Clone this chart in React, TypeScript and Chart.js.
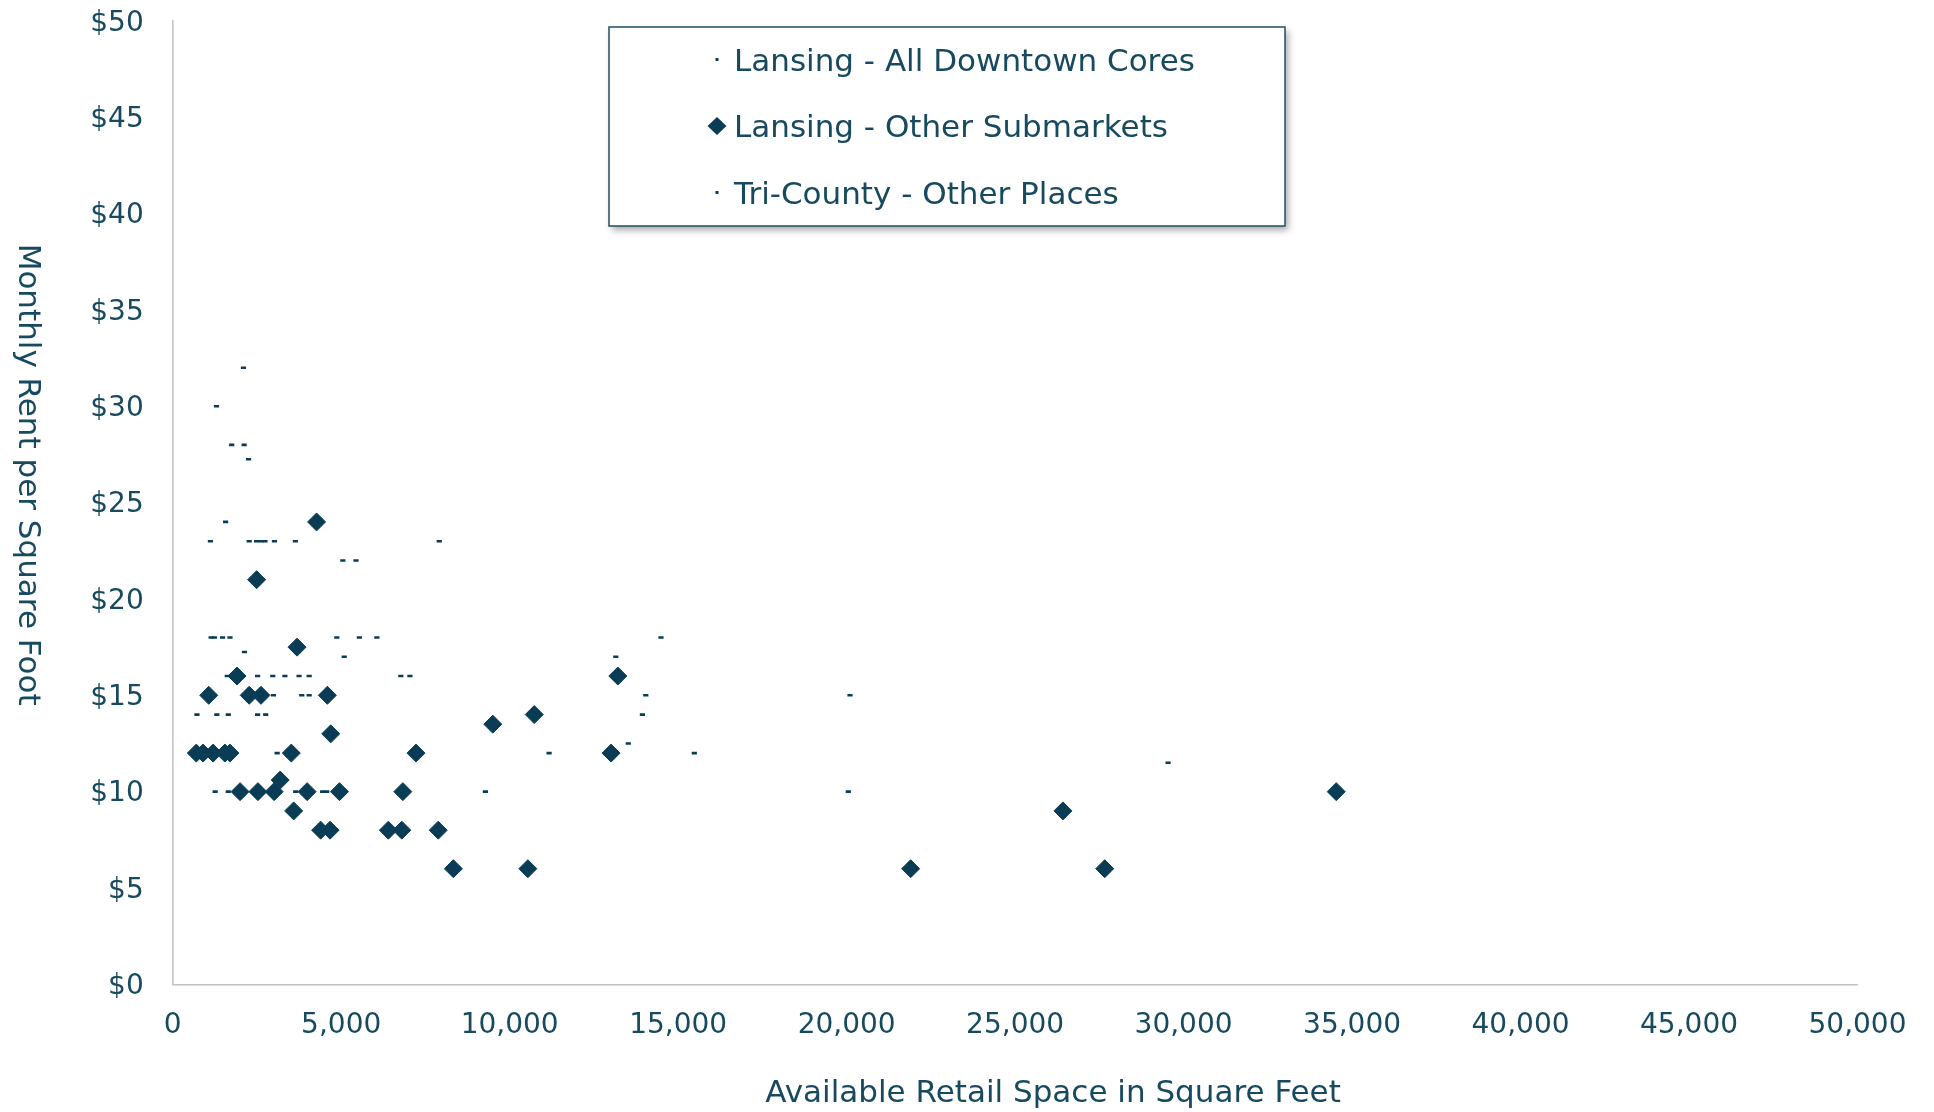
import React, { useEffect, useRef } from 'react';
import { Chart, registerables } from 'chart.js';

Chart.register(...registerables);

const seriesNames = ['Lansing - All Downtown Cores', 'Lansing - Other Submarkets', 'Tri-County - Other Places'];
const xTitle = 'Available Retail Space in Square Feet';
const yTitle = 'Monthly Rent per Square Foot';

const xTickValues = [0, 5000, 10000, 15000, 20000, 25000, 30000, 35000, 40000, 45000, 50000];
const yTickValues = [0, 5, 10, 15, 20, 25, 30, 35, 40, 45, 50];

// Lansing - All Downtown Cores (small dash markers)
const downtownX = [2100, 1300, 1750, 2120, 2250, 1570, 1120, 2270, 2490, 2620, 2740, 3020, 3640,
  1140, 1240, 1480, 1700, 2130, 1620, 2520, 2970, 3330, 3750, 4050, 2990, 3830, 4050,
  720, 1310, 1650, 2520, 2760, 3100, 1260, 1650, 3650, 4450, 4570];
const downtownY = [32, 30, 28, 28, 27.25, 24, 23, 23, 23, 23, 23, 23, 23,
  18, 18, 18, 18, 17.25, 16, 16, 16, 16, 16, 16, 15, 15, 15,
  14, 14, 14, 14, 14, 12, 10, 10, 10, 10, 10];

// Lansing - Other Submarkets (diamonds)
const submarketX = [4270, 2490, 3690, 1910, 13210, 1070, 2270, 2620, 4590, 10730, 9500, 4690,
  700, 900, 1200, 1550, 1700, 3520, 7220, 13010, 3190, 2000, 2530, 3010, 3990, 4950, 6830, 34530,
  3590, 26420, 4390, 4670, 6400, 6800, 7880, 8330, 10540, 21900, 27660];
const submarketY = [24, 21, 17.5, 16, 16, 15, 15, 15, 15, 14, 13.5, 13,
  12, 12, 12, 12, 12, 12, 12, 12, 10.6, 10, 10, 10, 10, 10, 10, 10,
  9, 9, 8, 8, 8, 8, 8, 6, 6, 6, 6];

// Tri-County - Other Places (small dash markers)
const triCountyX = [7910, 5050, 5440, 4870, 5540, 6060, 14490, 5090, 13150, 6770, 7040, 14040, 20100,
  13940, 13520, 11170, 15480, 29540, 9280, 20050];
const triCountyY = [23, 22, 22, 18, 18, 18, 18, 17, 17, 16, 16, 15, 15,
  14, 12.5, 12, 12, 11.5, 10, 10];

const FONT = '"DejaVu Sans", sans-serif';
const TEXT = '#174a5f';
const MARK = '#0a3d55';
const AXIS = '#c4c4c4';

const toPoints = (xs: number[], ys: number[]) => xs.map((x, i) => ({ x, y: ys[i] }));

const overlayPlugin = {
  id: 'overlay',
  afterDraw(chart: any) {
    const ctx: CanvasRenderingContext2D = chart.ctx;
    const area = chart.chartArea;
    ctx.save();
    ctx.fillStyle = TEXT;
    ctx.font = `31px ${FONT}`;

    // Y axis title, reading top to bottom
    ctx.save();
    ctx.translate(30, (area.top + area.bottom) / 2 - 28);
    ctx.rotate(Math.PI / 2);
    ctx.textAlign = 'center';
    ctx.textBaseline = 'alphabetic';
    ctx.fillText(yTitle, 0, 11.3);
    ctx.restore();

    // X axis title
    ctx.textAlign = 'center';
    ctx.textBaseline = 'alphabetic';
    ctx.fillText(xTitle, (area.left + area.right) / 2 + 38, 1102);

    // Legend box
    const bx = 609, by = 27, bw = 676, bh = 199;
    ctx.save();
    ctx.shadowColor = 'rgba(0,0,0,0.35)';
    ctx.shadowBlur = 7;
    ctx.shadowOffsetX = 3;
    ctx.shadowOffsetY = 4;
    ctx.fillStyle = '#ffffff';
    ctx.fillRect(bx, by, bw, bh);
    ctx.restore();
    ctx.strokeStyle = '#1f4f64';
    ctx.lineWidth = 1.5;
    ctx.strokeRect(bx, by, bw, bh);

    const rowY = [59.5, 126, 192.5];
    const markX = 717;
    chart.data.datasets.forEach((ds: any, i: number) => {
      const cy = rowY[i];
      ctx.fillStyle = MARK;
      if (ds.pointStyle === 'rectRot') {
        ctx.beginPath();
        ctx.moveTo(markX - 9.5, cy);
        ctx.lineTo(markX, cy - 9);
        ctx.lineTo(markX + 9.5, cy);
        ctx.lineTo(markX, cy + 9);
        ctx.closePath();
        ctx.fill();
      } else {
        ctx.fillRect(markX - 1.5, cy - 1.5, 3, 3);
      }
      ctx.fillStyle = TEXT;
      ctx.textAlign = 'left';
      ctx.fillText(ds.label, 734, cy + 11.3);
    });
    ctx.restore();
  },
};

export default function App() {
  const ref = useRef<HTMLCanvasElement | null>(null);

  useEffect(() => {
    if (!ref.current) return;
    const dashStyle = {
      pointStyle: 'line',
      pointRadius: 2.6,
      pointBorderWidth: 2.6,
      pointBackgroundColor: MARK,
      pointBorderColor: MARK,
      showLine: false,
    };
    const chart = new Chart(ref.current, {
      type: 'scatter',
      data: {
        datasets: [
          { label: seriesNames[0], data: toPoints(downtownX, downtownY), order: 2, ...dashStyle },
          {
            label: seriesNames[1],
            data: toPoints(submarketX, submarketY),
            order: 0,
            pointStyle: 'rectRot',
            pointRadius: 9,
            pointBorderWidth: 1,
            pointBackgroundColor: MARK,
            pointBorderColor: MARK,
            showLine: false,
          },
          { label: seriesNames[2], data: toPoints(triCountyX, triCountyY), order: 1, ...dashStyle },
        ],
      } as any,
      options: {
        responsive: false,
        animation: false,
        devicePixelRatio: 1,
        layout: { padding: { top: 21, right: 76.5, left: 0, bottom: 0 } },
        plugins: {
          legend: { display: false },
          tooltip: { enabled: false },
        },
        scales: {
          x: {
            type: 'linear',
            min: 0,
            max: 50000,
            afterBuildTicks: (s: any) => { s.ticks = xTickValues.map((v) => ({ value: v })); },
            ticks: {
              padding: 25,
              color: TEXT,
              font: { family: FONT, size: 28 },
              maxRotation: 0,
              autoSkip: false,
              callback: (v: any) => Number(v).toLocaleString('en-US'),
            },
            grid: { display: true, color: 'rgba(0,0,0,0)', lineWidth: 0, drawTicks: false },
            border: { display: true, color: AXIS, width: 1.6 },
            afterFit: (s: any) => {
              s.height = 1112 - 984.3;
              s.paddingLeft = 0;
              s.paddingRight = 0;
            },
          },
          y: {
            type: 'linear',
            min: 0,
            max: 50,
            afterBuildTicks: (s: any) => { s.ticks = yTickValues.map((v) => ({ value: v })); },
            ticks: {
              padding: 29,
              labelOffset: 2.5,
              color: TEXT,
              font: { family: FONT, size: 28 },
              autoSkip: false,
              callback: (v: any) => '$' + v,
            },
            grid: { display: true, color: 'rgba(0,0,0,0)', lineWidth: 0, drawTicks: false },
            border: { display: true, color: AXIS, width: 1.6 },
            afterFit: (s: any) => {
              s.width = 172.7;
              s.paddingTop = 0;
              s.paddingBottom = 0;
            },
          },
        },
      } as any,
      plugins: [overlayPlugin],
    });
    return () => chart.destroy();
  }, []);

  return (
    <div style={{ position: 'fixed', left: 0, top: 0, width: 1934, height: 1112, background: '#ffffff' }}>
      <canvas ref={ref} width={1934} height={1112} style={{ width: 1934, height: 1112, display: 'block' }} />
    </div>
  );
}
